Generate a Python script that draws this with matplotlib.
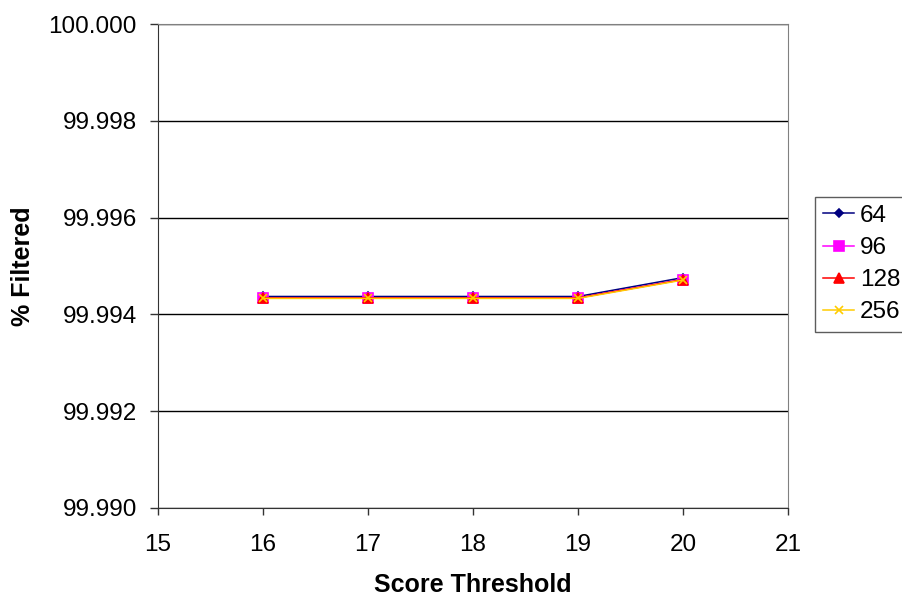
import matplotlib
matplotlib.use("Agg")
import matplotlib.pyplot as plt

plt.rcParams["font.family"] = ["Liberation Sans", "DejaVu Sans"]

thresholds = [16, 17, 18, 19, 20]
series_labels = ["64", "96", "128", "256"]
vals_64 = [99.99437, 99.99437, 99.99437, 99.99437, 99.99476]
vals_96 = [99.99434, 99.99434, 99.99434, 99.99434, 99.99472]
vals_128 = [99.99434, 99.99434, 99.99434, 99.99434, 99.99472]
vals_256 = [99.99433, 99.99433, 99.99433, 99.99433, 99.99471]

# colour, marker, marker size
styles = [
    ("#000080", "D", 4),
    ("#FF00FF", "s", 6.5),
    ("#FF0000", "^", 7),
    ("#FFCC00", "x", 6),
]

fig = plt.figure(figsize=(9.03, 5.96), dpi=100)
ax = fig.add_axes([0.175, 0.1477, 0.6976, 0.812])

for vals, label, (color, marker, ms) in zip(
    [vals_64, vals_96, vals_128, vals_256], series_labels, styles
):
    ax.plot(thresholds, vals, color=color, marker=marker, markersize=ms,
            linewidth=1.1, label=label, markeredgewidth=1.2)

ax.set_xlim(15, 21)
ax.set_ylim(99.990, 100.000)
ax.set_xticks(range(15, 22))
ax.set_yticks([99.990, 99.992, 99.994, 99.996, 99.998, 100.000])
ax.yaxis.set_major_formatter(plt.FuncFormatter(lambda v, p: f"{v:.3f}"))
ax.grid(True, axis="y", color="black", linewidth=1)
ax.set_axisbelow(True)
ax.tick_params(labelsize=17.5, direction="out", width=1, color="#333333")
ax.tick_params(axis="y", length=5.8, pad=9.5)
ax.tick_params(axis="x", length=5, pad=14)
for s in ["top", "right"]:
    ax.spines[s].set_color("#808080")
for s in ["left", "bottom"]:
    ax.spines[s].set_color("#333333")

ax.set_xlabel("Score Threshold", fontsize=18, fontweight="bold")
ax.set_ylabel("% Filtered", fontsize=18, fontweight="bold")
ax.xaxis.set_label_coords(0.5, -0.159)
ax.xaxis.label.set_va("center")
ax.yaxis.set_label_coords(-0.214, 0.5)
ax.yaxis.label.set_va("center")

leg = ax.legend(loc="upper left", bbox_to_anchor=(1.0435, 0.643), fontsize=17.5,
                frameon=True, fancybox=False, edgecolor="#333333",
                handlelength=1.25, handletextpad=0.25, borderpad=0.33,
                labelspacing=0.42, borderaxespad=0)
leg.get_frame().set_linewidth(1)

plt.savefig("out.png", dpi=100)
